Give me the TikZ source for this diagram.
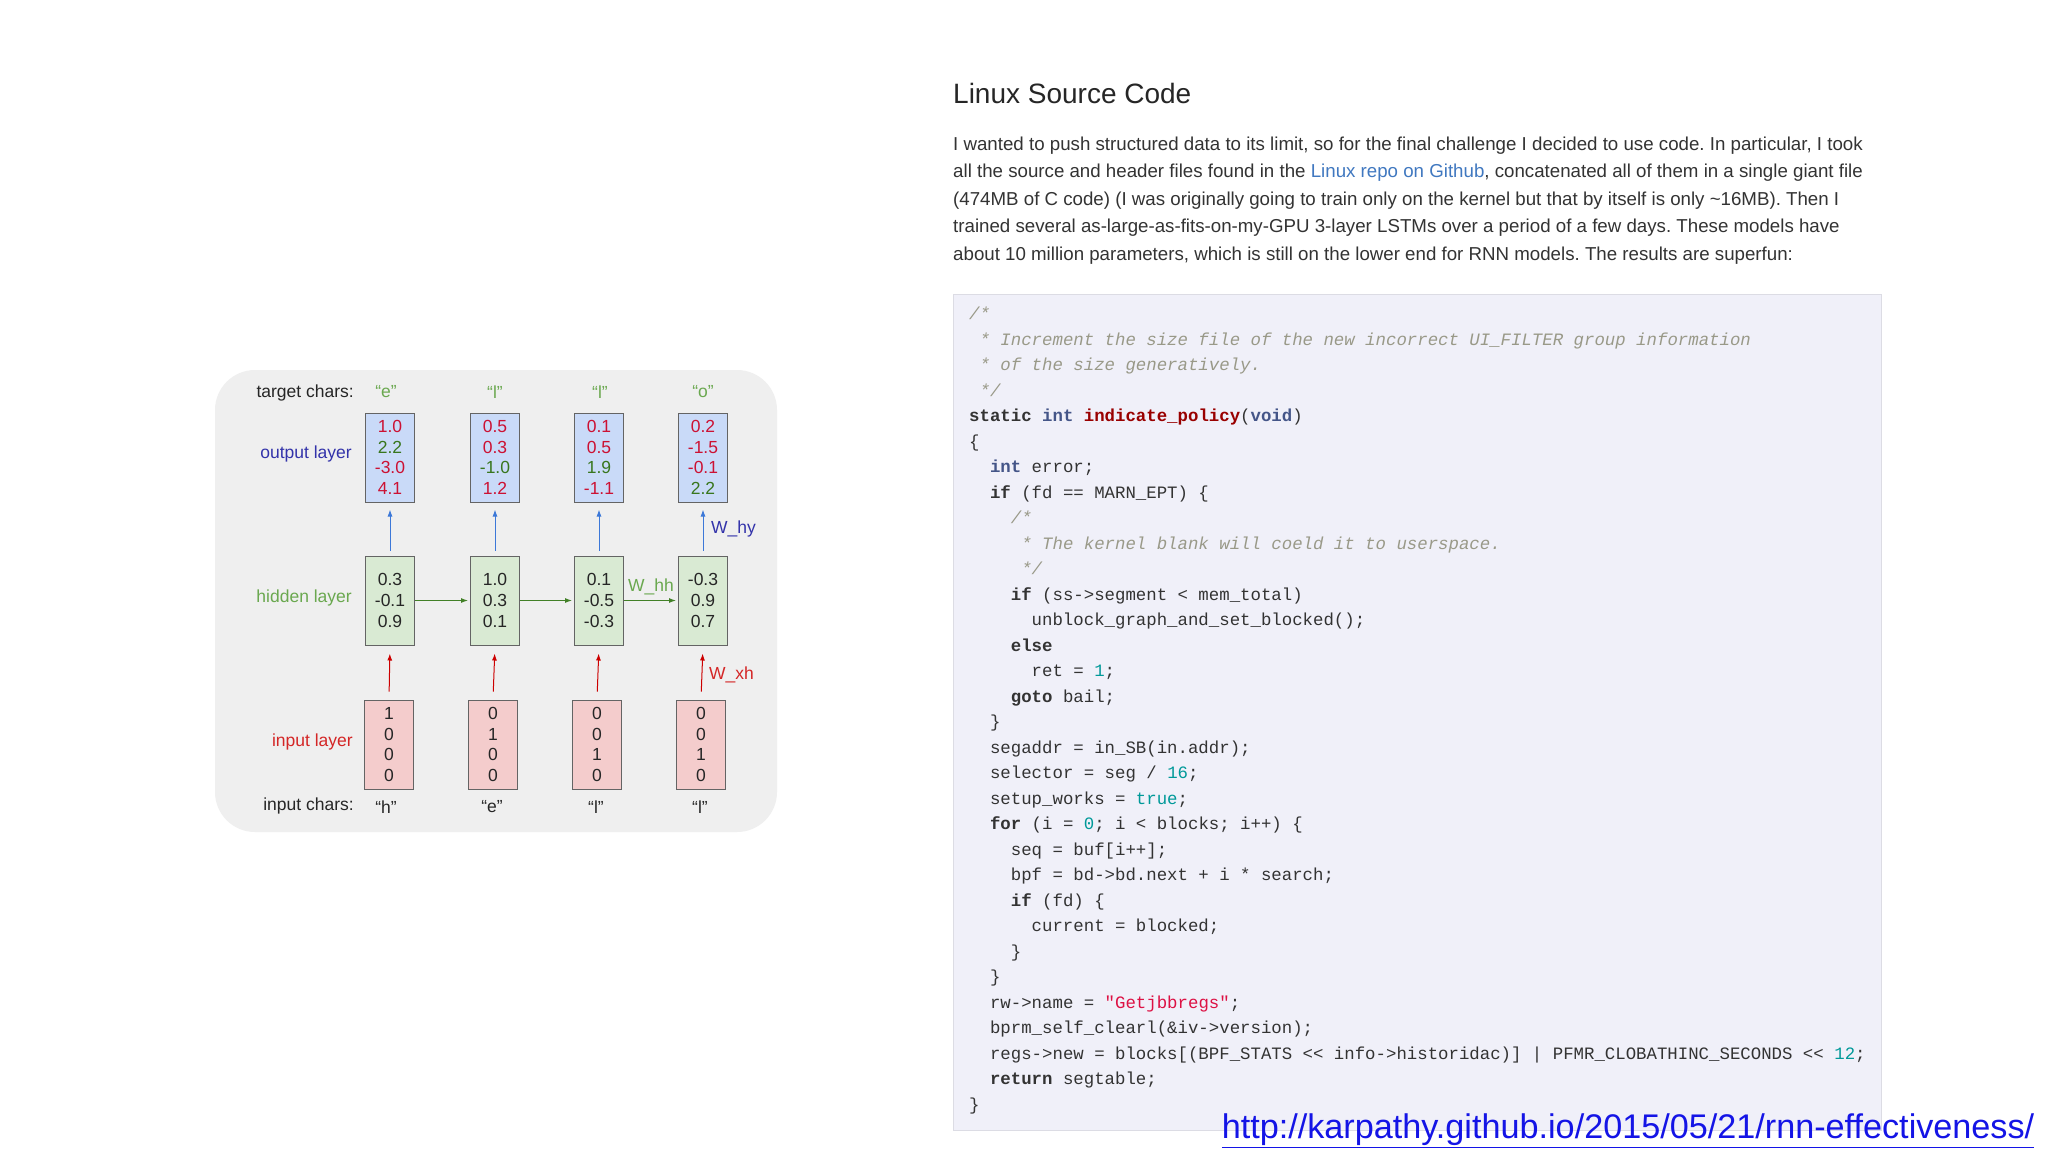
\documentclass[tikz,border=0pt]{standalone}
\usepackage{fontspec}
\setmainfont{Liberation Sans}
\setmonofont{Liberation Mono}
\usetikzlibrary{arrows.meta}
\definecolor{codebg}{RGB}{240,240,249}
\definecolor{codeborder}{RGB}{220,220,228}
\definecolor{codetxt}{RGB}{51,51,51}
\definecolor{cmt}{RGB}{153,153,136}
\definecolor{tyc}{RGB}{68,85,136}
\definecolor{fnc}{RGB}{153,0,0}
\definecolor{numc}{RGB}{0,153,153}
\definecolor{strc}{RGB}{221,17,68}
\definecolor{linkc}{RGB}{64,120,192}
\definecolor{urlc}{RGB}{20,20,230}
\definecolor{paratxt}{RGB}{51,51,51}
\definecolor{diagbg}{RGB}{239,239,239}
\definecolor{outfill}{RGB}{201,218,248}
\definecolor{hidfill}{RGB}{217,234,211}
\definecolor{inpfill}{RGB}{244,204,204}
\definecolor{boxline}{RGB}{100,100,100}
\definecolor{redv}{RGB}{204,17,51}
\definecolor{greenv}{RGB}{56,118,29}
\definecolor{greenl}{RGB}{106,168,79}
\definecolor{bluel}{RGB}{51,51,170}
\definecolor{bluearr}{RGB}{60,120,216}
\definecolor{redarr}{RGB}{204,0,0}
\newcommand\kwd[1]{\textbf{#1}}
\newcommand\tyd[1]{\textcolor{tyc}{\textbf{#1}}}
\newcommand\fnd[1]{\textcolor{fnc}{\textbf{#1}}}
\newcommand\numd[1]{\textcolor{numc}{#1}}
\newcommand\strd[1]{\textcolor{strc}{#1}}
\newcommand\cmtd[1]{\textcolor{cmt}{\itshape #1}}
\newcommand\mycl[3]{\node[codetext] (c#1) at ({969+10.42*#2},{315+25.5*(#1-1)}) {#3};}
\newcommand\mypl[2]{\node[para] (p#1) at (953,{145+27.6*(#1-1)}) {#2};}
\newcommand\rv[1]{\textcolor{redv}{#1}}
\newcommand\gv[1]{\textcolor{greenv}{#1}}
\tikzset{
  codetext/.style={anchor=west, inner sep=0pt, text=codetxt, font=\ttfamily\fontsize{17.37}{20}\selectfont, text height=13pt, text depth=4pt},
  para/.style={anchor=west, inner sep=0pt, text=paratxt, font=\fontsize{18.7}{23}\selectfont\frenchspacing, text height=14pt, text depth=4pt},
  lbl/.style={inner sep=0pt, font=\fontsize{17.5}{21}\selectfont},
  vbox/.style={draw=boxline, line width=1pt, minimum width=49pt, minimum height=89pt, inner sep=0pt, align=center, font=\fontsize{17.5}{20.7}\selectfont},
  outbox/.style={vbox, fill=outfill},
  hidbox/.style={vbox, fill=hidfill, text=black!85},
  inpbox/.style={vbox, fill=inpfill, text=black!85},
  arr/.style={-{Latex[length=7pt,width=5pt]}, line width=1pt},
}
\begin{document}
\begin{tikzpicture}[x=1pt,y=-1pt]
\useasboundingbox[fill=white] (0,0) rectangle (2048,1152);
% ---------- left diagram ----------
\fill[diagbg, rounded corners=40pt] (215,370) rectangle (777,832);
\node[outbox] (o1) at (390,457.5) {\rv{1.0}\\\gv{2.2}\\\rv{-3.0}\\\rv{4.1}};
\node[outbox] (o2) at (495,457.5) {\rv{0.5}\\\rv{0.3}\\\gv{-1.0}\\\rv{1.2}};
\node[outbox] (o3) at (599,457.5) {\rv{0.1}\\\rv{0.5}\\\gv{1.9}\\\rv{-1.1}};
\node[outbox] (o4) at (703,457.5) {\rv{0.2}\\\rv{-1.5}\\\rv{-0.1}\\\gv{2.2}};
\node[hidbox] (h1) at (390,600.5) {0.3\\-0.1\\0.9};
\node[hidbox] (h2) at (495,600.5) {1.0\\0.3\\0.1};
\node[hidbox] (h3) at (599,600.5) {0.1\\-0.5\\-0.3};
\node[hidbox] (h4) at (703,600.5) {-0.3\\0.9\\0.7};
\node[inpbox] (i1) at (389,744.5) {1\\0\\0\\0};
\node[inpbox] (i2) at (493,744.5) {0\\1\\0\\0};
\node[inpbox] (i3) at (597,744.5) {0\\0\\1\\0};
\node[inpbox] (i4) at (701,744.5) {0\\0\\1\\0};
\node[lbl, anchor=east, text=black!85] (ltc) at (354,393) {target chars:};
\node[lbl, anchor=east, text=bluel] (lol) at (352,454) {output layer};
\node[lbl, anchor=east, text=greenl] (lhl) at (352,598) {hidden layer};
\node[lbl, anchor=east, text=redarr!85] (lil) at (353,742) {input layer};
\node[lbl, anchor=east, text=black!85] (lic) at (354,806) {input chars:};
\node[lbl, text=greenl] (t1) at (386,392) {“e”};
\node[lbl, text=greenl] (t2) at (495,392) {“l”};
\node[lbl, text=greenl] (t3) at (600,392) {“l”};
\node[lbl, text=greenl] (t4) at (703,392) {“o”};
\node[lbl, text=black!85] (q1) at (386,807) {“h”};
\node[lbl, text=black!85] (q2) at (492,807) {“e”};
\node[lbl, text=black!85] (q3) at (596,807) {“l”};
\node[lbl, text=black!85] (q4) at (700,807) {“l”};
\foreach \i in {1,2,3,4}{
  \draw[arr, bluearr, shorten <=5pt, shorten >=7pt] (h\i.north) -- (o\i.south);
  \draw[arr, redarr, shorten <=8pt, shorten >=8pt] (i\i.north) -- (h\i.south);
}
\foreach \i/\j in {1/2,2/3,3/4}{
  \draw[arr, greenv!80!greenl, shorten >=2pt] (h\i.east) -- (h\j.west);
}
\node[lbl, anchor=west, text=bluel] (why) at (711,529) {W\_hy};
\node[lbl, anchor=west, text=redarr!85] (wxh) at (709,675) {W\_xh};
\node[lbl, text=greenl] (whh) at (651,587) {W\_hh};
% ---------- right text ----------
\node[anchor=west, inner sep=0pt, font=\fontsize{28}{34}\selectfont, text=black!85] (title) at (953,93) {Linux Source Code};
\mypl{1}{I wanted to push structured data to its limit, so for the final challenge I decided to use code. In particular, I took}
\mypl{2}{all the source and header files found in the \textcolor{linkc}{Linux repo on Github}, concatenated all of them in a single giant file}
\mypl{3}{(474MB of C code) (I was originally going to train only on the kernel but that by itself is only \textasciitilde16MB). Then I}
\mypl{4}{trained several as-large-as-fits-on-my-GPU 3-layer LSTMs over a period of a few days. These models have}
\mypl{5}{about 10 million parameters, which is still on the lower end for RNN models. The results are superfun:}
% ---------- code box ----------
\draw[codeborder, fill=codebg, line width=1pt] (953,294) rectangle (1881,1130);
\mycl{1}{0}{\cmtd{/*}}
\mycl{2}{1}{\cmtd{* Increment the size file of the new incorrect UI\_FILTER group information}}
\mycl{3}{1}{\cmtd{* of the size generatively.}}
\mycl{4}{1}{\cmtd{*/}}
\mycl{5}{0}{\kwd{static} \tyd{int} \fnd{indicate\_policy}(\tyd{void})}
\mycl{6}{0}{\{}
\mycl{7}{2}{\tyd{int} error;}
\mycl{8}{2}{\kwd{if} (fd == MARN\_EPT) \{}
\mycl{9}{4}{\cmtd{/*}}
\mycl{10}{5}{\cmtd{* The kernel blank will coeld it to userspace.}}
\mycl{11}{5}{\cmtd{*/}}
\mycl{12}{4}{\kwd{if} (ss->segment < mem\_total)}
\mycl{13}{6}{unblock\_graph\_and\_set\_blocked();}
\mycl{14}{4}{\kwd{else}}
\mycl{15}{6}{ret = \numd{1};}
\mycl{16}{4}{\kwd{goto} bail;}
\mycl{17}{2}{\}}
\mycl{18}{2}{segaddr = in\_SB(in.addr);}
\mycl{19}{2}{selector = seg / \numd{16};}
\mycl{20}{2}{setup\_works = \numd{true};}
\mycl{21}{2}{\kwd{for} (i = \numd{0}; i < blocks; i++) \{}
\mycl{22}{4}{seq = buf[i++];}
\mycl{23}{4}{bpf = bd->bd.next + i * search;}
\mycl{24}{4}{\kwd{if} (fd) \{}
\mycl{25}{6}{current = blocked;}
\mycl{26}{4}{\}}
\mycl{27}{2}{\}}
\mycl{28}{2}{rw->name = \strd{"Getjbbregs"};}
\mycl{29}{2}{bprm\_self\_clearl(\&iv->version);}
\mycl{30}{2}{regs->new = blocks[(BPF\_STATS << info->historidac)] | PFMR\_CLOBATHINC\_SECONDS << \numd{12};}
\mycl{31}{2}{\kwd{return} segtable;}
\mycl{32}{0}{\}}
% ---------- url ----------
\node[inner sep=0pt, font=\fontsize{34.2}{40}\selectfont, text=urlc] (url) at (1628,1131) {\underline{http://karpathy.github.io/2015/05/21/rnn-effectiveness/}};
\end{tikzpicture}
\end{document}
